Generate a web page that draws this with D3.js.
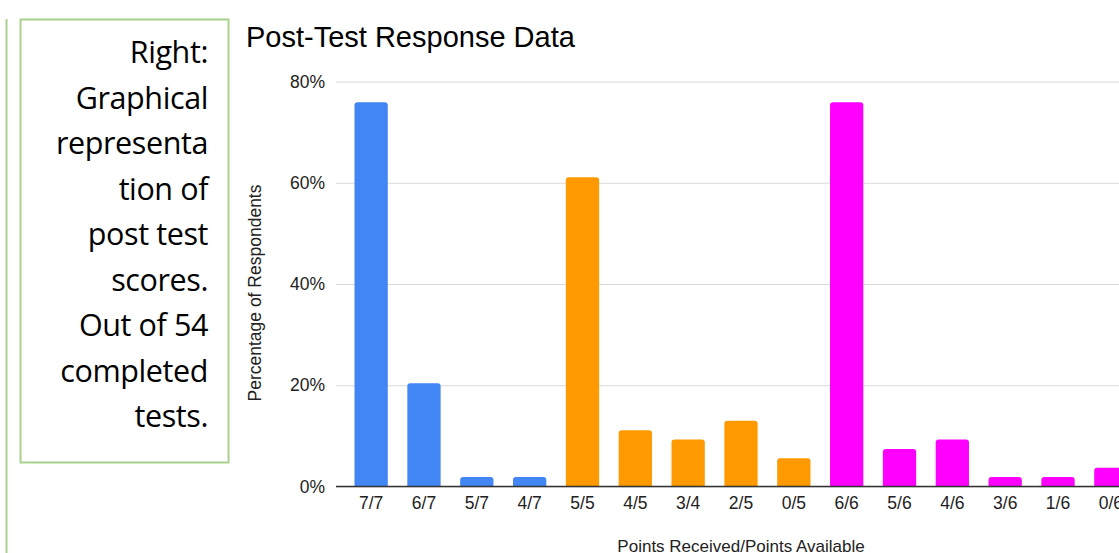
<!DOCTYPE html>
<html>
<head>
<meta charset="utf-8">
<script src="https://cdn.jsdelivr.net/npm/d3@7"></script>
<style>
    body { margin: 0; background: #fff; }
    svg { display: block; }
</style>
</head>
<body>
<div id="chart"></div>
<script>
// categories and values (percentage of 54 respondents)
var categories = ["7/7", "6/7", "5/7", "4/7", "5/5", "4/5", "3/4", "2/5", "0/5", "6/6", "5/6", "4/6", "3/6", "1/6", "0/6"];
var values = [75.9, 20.4, 1.9, 1.9, 61.1, 11.1, 9.3, 13.0, 5.6, 75.9, 7.4, 9.3, 1.9, 1.9, 3.7];
var groups = ["blue", "blue", "blue", "blue", "orange", "orange", "orange", "orange", "orange", "pink", "pink", "pink", "pink", "pink", "pink"];
var yTicks = [0, 20, 40, 60, 80];
var noteLines = ["Right:", "Graphical", "representa", "tion of", "post test", "scores.", "Out of 54", "completed", "tests."];

var colors = { blue: "#4285f4", orange: "#ff9900", pink: "#ff00ff" };

var W = 1119, H = 553;
var svg = d3.select("#chart").append("svg")
    .attr("width", W)
    .attr("height", H);

// side note boxes
svg.append("line")
    .attr("x1", 6.5).attr("x2", 6.5)
    .attr("y1", 19).attr("y2", H)
    .style("stroke", "#a9d18e").style("stroke-width", 2);

svg.append("rect")
    .attr("x", 20.5).attr("y", 19.5)
    .attr("width", 208).attr("height", 443)
    .style("fill", "none")
    .style("stroke", "#a9d18e").style("stroke-width", 2);

svg.append("g")
    .selectAll("text")
    .data(noteLines)
    .join("text")
    .attr("x", 208)
    .attr("y", function(d, i) { return 63 + i * 45.5; })
    .attr("text-anchor", "end")
    .style("font-family", "'Open Sans', sans-serif")
    .style("font-size", "30.5px")
    .style("letter-spacing", "-0.4px")
    .style("fill", "#000")
    .text(function(d) { return d; });

// chart
var x = d3.scaleBand()
    .domain(categories)
    .range([336, 1146])
    .paddingInner(0.37)
    .paddingOuter(0.35);

var y = d3.scaleLinear()
    .domain([0, 80])
    .range([486.5, 81.5]);

var font = "Arial, 'Liberation Sans', sans-serif";

svg.append("text")
    .attr("x", 246).attr("y", 47)
    .style("font-family", font)
    .style("font-size", "29px")
    .style("fill", "#000")
    .text("Post-Test Response Data");

var yAxis = svg.append("g")
    .attr("transform", "translate(336,0)")
    .call(d3.axisLeft(y).tickValues(yTicks).tickSize(-(W - 336)).tickFormat(function(d) { return d + "%"; }));
yAxis.select(".domain").remove();
yAxis.selectAll(".tick line").style("stroke", "#d9d9d9").style("stroke-width", 1);
yAxis.selectAll(".tick text")
    .attr("x", -11)
    .style("font-family", font)
    .style("font-size", "17.5px")
    .style("fill", "#222");

svg.append("text")
    .attr("transform", "translate(261,293) rotate(-90)")
    .attr("text-anchor", "middle")
    .style("font-family", font)
    .style("font-size", "17.5px")
    .style("fill", "#222")
    .text("Percentage of Respondents");

var r = 3;
svg.append("g")
    .selectAll("path")
    .data(values)
    .join("path")
    .attr("d", function(d, i) {
        var x0 = x(categories[i]), x1 = x0 + x.bandwidth(),
            y0 = y(0), y1 = y(d), rr = Math.min(r, (y0 - y1) / 2);
        return "M" + x0 + "," + y0 + "V" + (y1 + rr) + "Q" + x0 + "," + y1 + " " + (x0 + rr) + "," + y1
            + "H" + (x1 - rr) + "Q" + x1 + "," + y1 + " " + x1 + "," + (y1 + rr) + "V" + y0 + "Z";
    })
    .style("fill", function(d, i) { return colors[groups[i]]; });

var xAxis = svg.append("g")
    .attr("transform", "translate(0," + y(0) + ")")
    .call(d3.axisBottom(x).tickSize(0).tickPadding(10));
xAxis.select(".domain")
    .attr("d", "M336,0H" + W)
    .style("stroke", "#333").style("stroke-width", 1.3);
xAxis.selectAll(".tick text")
    .style("font-family", font)
    .style("font-size", "17.5px")
    .style("fill", "#222");

svg.append("text")
    .attr("x", 741).attr("y", 552)
    .attr("text-anchor", "middle")
    .style("font-family", font)
    .style("font-size", "17px")
    .style("fill", "#222")
    .text("Points Received/Points Available");
</script>
</body>
</html>
